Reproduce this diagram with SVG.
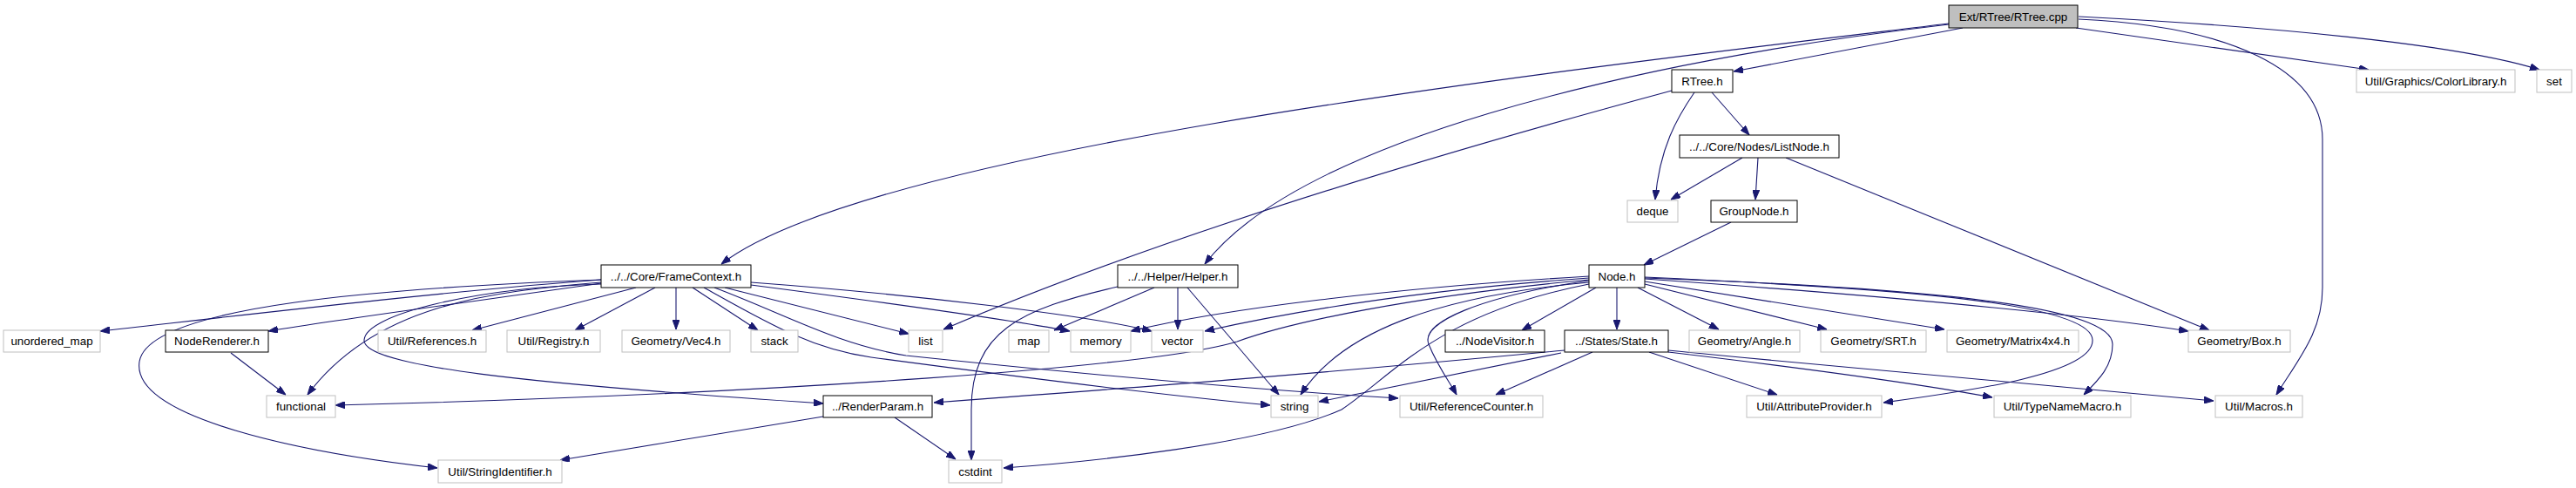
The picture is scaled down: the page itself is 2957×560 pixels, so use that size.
<svg xmlns="http://www.w3.org/2000/svg" width="2957" height="560" viewBox="0 0 2957 560">
<style>
.n rect{fill:#fff;stroke:#000;stroke-width:1}
.g rect{fill:#fff;stroke:#bfbfbf;stroke-width:1}
.r rect{fill:#bfbfbf;stroke:#000;stroke-width:1}
text{font-family:"Liberation Sans",Arial,sans-serif;font-size:13.33px;text-anchor:middle;fill:#000}
#edges path{fill:none;stroke:#191970;stroke-width:1.1;marker-end:url(#a)}
</style>
<defs>
<marker id="a" markerUnits="userSpaceOnUse" markerWidth="11" markerHeight="8" viewBox="0 0 11 8" refX="11" refY="4" orient="auto">
<path d="M0,0 L11,4 L0,8 z" fill="#191970" stroke="#191970"/>
</marker>
</defs>
<rect width="2957" height="560" fill="#fff"/>
<g id="edges">
<path d="M2253,32 L1990,82"/>
<path d="M2237,27 C1800,80 1000,170 828,303"/>
<path d="M2237,28 C1860,72 1490,165 1383,303"/>
<path d="M2383,32 L2719,80"/>
<path d="M2386,19 C2600,30 2820,50 2915,80"/>
<path d="M2386,22 C2560,30 2666,80 2666,160 L2666,330 C2666,380 2640,410 2613,453"/>
<path d="M1965,106 L2008,155"/>
<path d="M1945,106 C1925,135 1905,170 1900,229"/>
<path d="M1919,104 C1600,190 1300,285 1083,378"/>
<path d="M2000,181 L1918,229"/>
<path d="M2018,181 L2015,229"/>
<path d="M2050,181 L2536,379"/>
<path d="M1987,255 L1887,304"/>
<path d="M690,321 C500,335 250,365 115,380"/>
<path d="M690,325 C550,345 400,365 308,380"/>
<path d="M690,324 C560,335 430,350 353,453"/>
<path d="M690,321 C450,330 170,350 160,415 C150,480 350,520 502,537"/>
<path d="M730,330 L542,379"/>
<path d="M752,330 L660,379"/>
<path d="M776,330 L776,378"/>
<path d="M795,330 L870,379"/>
<path d="M832,330 L1043,383"/>
<path d="M862,327 C1000,345 1150,365 1228,380"/>
<path d="M862,324 C1050,338 1250,362 1322,380"/>
<path d="M820,330 C900,360 960,395 1040,408 C1250,430 1450,448 1605,457"/>
<path d="M808,330 C880,370 930,400 1000,410 C1150,430 1350,455 1458,465"/>
<path d="M690,326 C550,330 420,360 418,390 C416,420 600,440 945,463"/>
<path d="M265,405 L328,453"/>
<path d="M1325,330 L1210,379"/>
<path d="M1352,330 L1352,378"/>
<path d="M1363,330 L1468,453"/>
<path d="M1283,329 C1170,355 1115,380 1115,470 L1115,528"/>
<path d="M1832,330 L1747,379"/>
<path d="M1856,330 L1856,378"/>
<path d="M1880,330 L1973,378"/>
<path d="M1888,326 L2097,378"/>
<path d="M1888,323 L2232,378"/>
<path d="M1888,320 C2100,335 2350,355 2512,380"/>
<path d="M1888,318 C2150,330 2400,345 2402,390 C2404,430 2250,450 2162,462"/>
<path d="M1888,319 C2200,330 2425,350 2425,395 C2425,420 2410,435 2392,453"/>
<path d="M1824,322 C1700,340 1630,370 1640,395 C1650,420 1665,440 1672,453"/>
<path d="M1824,324 C1650,340 1540,380 1493,453"/>
<path d="M1824,326 C1650,360 1600,430 1540,470 C1450,510 1250,530 1152,537"/>
<path d="M1824,321 C1620,340 1480,370 1420,392 C1330,420 900,452 385,465"/>
<path d="M1824,317 C1600,330 1400,355 1298,380"/>
<path d="M1824,319 C1600,335 1450,365 1383,380"/>
<path d="M1792,405 L1514,461"/>
<path d="M1796,402 C1500,430 1300,445 1072,462"/>
<path d="M1828,404 L1717,453"/>
<path d="M1893,404 L2040,453"/>
<path d="M1915,404 C2050,420 2200,440 2287,456"/>
<path d="M1915,402 C2150,425 2400,448 2541,460"/>
<path d="M945,478 L643,528"/>
<path d="M1027,479 L1097,527"/>
</g>
<g id="n_cpp" class="r"><rect x="2237" y="6" width="148" height="26"/><text x="2311" y="23.5">Ext/RTree/RTree.cpp</text></g>
<g id="n_rtreeh" class="n"><rect x="1919" y="80" width="70" height="26"/><text x="1954" y="97.5">RTree.h</text></g>
<g id="n_colorlib" class="g"><rect x="2705" y="80" width="182" height="26"/><text x="2796" y="97.5">Util/Graphics/ColorLibrary.h</text></g>
<g id="n_set" class="g"><rect x="2912" y="80" width="40" height="26"/><text x="2932" y="97.5">set</text></g>
<g id="n_listnode" class="n"><rect x="1928" y="155" width="183" height="26"/><text x="2019.5" y="172.5">../../Core/Nodes/ListNode.h</text></g>
<g id="n_deque" class="g"><rect x="1868" y="230" width="58" height="25"/><text x="1897" y="247">deque</text></g>
<g id="n_groupnode" class="n"><rect x="1964" y="230" width="99" height="25"/><text x="2013.5" y="247">GroupNode.h</text></g>
<g id="n_framecontext" class="n"><rect x="690" y="304" width="172" height="26"/><text x="776" y="321.5">../../Core/FrameContext.h</text></g>
<g id="n_helper" class="n"><rect x="1283" y="304" width="138" height="26"/><text x="1352" y="321.5">../../Helper/Helper.h</text></g>
<g id="n_node" class="n"><rect x="1824" y="304" width="64" height="26"/><text x="1856" y="321.5">Node.h</text></g>
<g id="n_unordered_map" class="g"><rect x="4" y="379" width="111" height="25"/><text x="59.5" y="396">unordered_map</text></g>
<g id="n_noderenderer" class="n"><rect x="190" y="379" width="118" height="25"/><text x="249" y="396">NodeRenderer.h</text></g>
<g id="n_references" class="g"><rect x="434" y="379" width="124" height="25"/><text x="496" y="396">Util/References.h</text></g>
<g id="n_registry" class="g"><rect x="582" y="379" width="107" height="25"/><text x="635.5" y="396">Util/Registry.h</text></g>
<g id="n_vec4" class="g"><rect x="714" y="379" width="124" height="25"/><text x="776" y="396">Geometry/Vec4.h</text></g>
<g id="n_stack" class="g"><rect x="862" y="379" width="54" height="25"/><text x="889" y="396">stack</text></g>
<g id="n_list" class="g"><rect x="1043" y="379" width="39" height="25"/><text x="1062.5" y="396">list</text></g>
<g id="n_map" class="g"><rect x="1158" y="379" width="46" height="25"/><text x="1181" y="396">map</text></g>
<g id="n_memory" class="g"><rect x="1229" y="379" width="69" height="25"/><text x="1263.5" y="396">memory</text></g>
<g id="n_vector" class="g"><rect x="1322" y="379" width="59" height="25"/><text x="1351.5" y="396">vector</text></g>
<g id="n_nodevisitor" class="n"><rect x="1659" y="379" width="114" height="25"/><text x="1716" y="396">../NodeVisitor.h</text></g>
<g id="n_state" class="n"><rect x="1796" y="379" width="119" height="25"/><text x="1855.5" y="396">../States/State.h</text></g>
<g id="n_angle" class="g"><rect x="1939" y="379" width="127" height="25"/><text x="2002.5" y="396">Geometry/Angle.h</text></g>
<g id="n_srt" class="g"><rect x="2090" y="379" width="121" height="25"/><text x="2150.5" y="396">Geometry/SRT.h</text></g>
<g id="n_matrix" class="g"><rect x="2235" y="379" width="151" height="25"/><text x="2310.5" y="396">Geometry/Matrix4x4.h</text></g>
<g id="n_box" class="g"><rect x="2512" y="379" width="117" height="25"/><text x="2570.5" y="396">Geometry/Box.h</text></g>
<g id="n_functional" class="g"><rect x="306" y="454" width="79" height="25"/><text x="345.5" y="471">functional</text></g>
<g id="n_renderparam" class="n"><rect x="945" y="454" width="125" height="25"/><text x="1007.5" y="471">../RenderParam.h</text></g>
<g id="n_string" class="g"><rect x="1459" y="454" width="54" height="25"/><text x="1486" y="471">string</text></g>
<g id="n_refcounter" class="g"><rect x="1607" y="454" width="164" height="25"/><text x="1689" y="471">Util/ReferenceCounter.h</text></g>
<g id="n_attrprovider" class="g"><rect x="2005" y="454" width="155" height="25"/><text x="2082.5" y="471">Util/AttributeProvider.h</text></g>
<g id="n_typenamemacro" class="g"><rect x="2289" y="454" width="157" height="25"/><text x="2367.5" y="471">Util/TypeNameMacro.h</text></g>
<g id="n_macros" class="g"><rect x="2543" y="454" width="100" height="25"/><text x="2593" y="471">Util/Macros.h</text></g>
<g id="n_stringid" class="g"><rect x="503" y="528" width="142" height="26"/><text x="574" y="545.5">Util/StringIdentifier.h</text></g>
<g id="n_cstdint" class="g"><rect x="1089" y="528" width="61" height="26"/><text x="1119.5" y="545.5">cstdint</text></g>
</svg>
